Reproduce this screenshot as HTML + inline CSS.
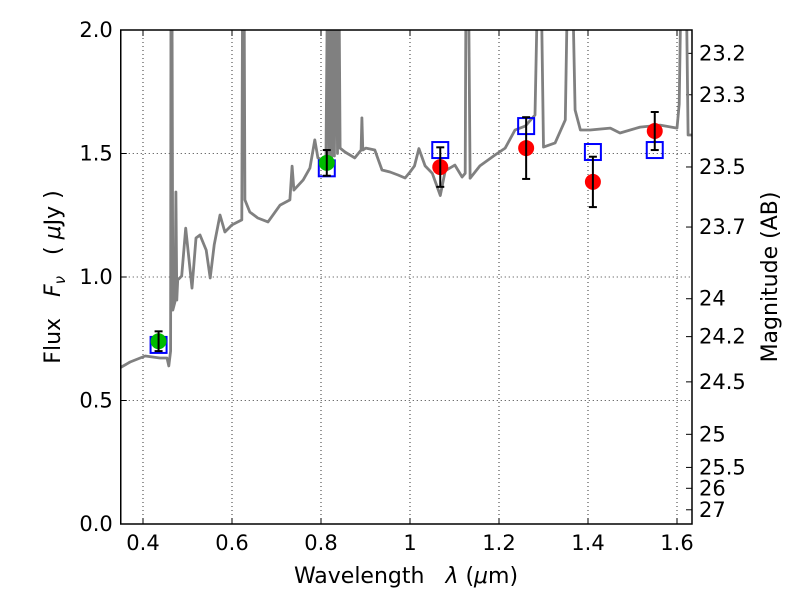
<!DOCTYPE html>
<html><head><meta charset="utf-8"><style>
body{margin:0;background:#fff}
svg{font-family:"DejaVu Sans","Liberation Sans",sans-serif}
</style></head><body>
<svg id="c" width="800" height="600"></svg>
<script>
const specLam=[
0.348,0.371,0.405,0.438,0.454,0.458,0.462,0.463,0.465,0.467,
0.472,0.474,0.476,0.478,0.487,0.496,0.510,0.519,0.528,0.542,
0.551,0.560,0.573,0.584,0.600,0.622,0.624,0.627,0.629,0.640,
0.658,0.681,0.708,0.730,0.735,0.739,0.760,0.775,0.786,0.793,
0.802,0.811,0.815,0.818,0.820,0.824,0.827,0.830,0.834,0.837,
0.840,0.843,0.854,0.876,0.890,0.892,0.894,0.901,0.921,0.937,
0.955,0.973,0.989,1.000,1.010,1.020,1.034,1.050,1.068,1.079,
1.101,1.117,1.124,1.126,1.131,1.135,1.157,1.191,1.214,1.236,
1.259,1.281,1.288,1.294,1.300,1.326,1.349,1.355,1.364,1.371,
1.383,1.405,1.450,1.472,1.517,1.562,1.600,1.605,1.610,1.620,
1.625,1.634];
const specFlux=[
0.632,0.656,0.680,0.672,0.672,0.640,0.700,2.300,2.300,0.866,
0.900,1.344,0.907,0.988,1.004,1.198,0.955,1.158,1.170,1.109,
0.996,1.130,1.251,1.182,1.211,1.231,2.300,2.300,1.312,1.263,
1.239,1.223,1.291,1.312,1.449,1.352,1.393,1.441,1.555,1.482,
1.474,1.460,2.300,1.470,2.300,1.480,2.300,1.490,2.300,1.500,
2.300,1.522,1.506,1.482,1.514,1.644,1.514,1.522,1.514,1.433,
1.425,1.413,1.401,1.425,1.450,1.520,1.450,1.420,1.330,1.430,
1.453,1.405,1.420,2.300,2.300,1.400,1.450,1.494,1.522,1.595,
1.611,1.656,2.300,2.300,1.526,1.543,1.636,2.300,2.300,1.676,
1.595,1.595,1.603,1.583,1.607,1.615,1.603,1.700,2.300,2.300,
1.575,1.575];
const photLam=[0.435,0.813,1.068,1.261,1.411,1.550];
const photFlux=[0.740,1.462,1.445,1.522,1.385,1.591];
const photErr=[0.040,0.052,0.080,0.125,0.102,0.077];
const photColor=["#00bb00","#00bb00","red","red","red","red"];
const modelFlux=[0.725,1.440,1.514,1.611,1.506,1.514];
const xTicks=[0.4,0.6,0.8,1.0,1.2,1.4,1.6];
const xTickLabels=["0.4","0.6","0.8","1","1.2","1.4","1.6"];
const yTicks=[0,0.5,1.0,1.5,2.0];
const yTickLabels=["0.0","0.5","1.0","1.5","2.0"];
const magTicks=[23.2,23.3,23.5,23.7,24,24.2,24.5,25,25.5,26,27];
const magLabels=["23.2","23.3","23.5","23.7","24","24.2","24.5","25","25.5","26","27"];
const L=120.75,R=692,T=30,B=524,x0=0.35,x1=(692-120.75)/445+0.35,y0=0,y1=2;
const X=v=>L+(v-x0)/(x1-x0)*(R-L), Y=v=>B-(v-y0)/(y1-y0)*(B-T);
const s=document.getElementById('c'),NS="http://www.w3.org/2000/svg";
function mk(t,a,p){const e=document.createElementNS(NS,t);for(const k in a)e.setAttribute(k,a[k]);(p||s).appendChild(e);return e;}
const defs=mk('defs',{});const cp=mk('clipPath',{id:'cp'},defs);mk('rect',{x:L,y:T,width:R-L,height:B-T},cp);
xTicks.forEach((v,i)=>{const g=mk('line',{x1:X(v),x2:X(v),y1:T,y2:B,stroke:'#000','stroke-dasharray':'1,3','stroke-width':0.8});


mk('line',{x1:X(v),x2:X(v),y1:B,y2:B-6,stroke:'#000'});mk('line',{x1:X(v),x2:X(v),y1:T,y2:T+6,stroke:'#000'});
const t=mk('text',{x:X(v),y:B+26,'text-anchor':'middle','font-size':21});t.textContent=xTickLabels[i];

});
yTicks.forEach((v,i)=>{const g=mk('line',{x1:L,x2:R,y1:Y(v),y2:Y(v),stroke:'#000','stroke-dasharray':'1,3','stroke-width':0.8});


mk('line',{x1:L,x2:L+6,y1:Y(v),y2:Y(v),stroke:'#000'});
const t=mk('text',{x:L-8,y:Y(v)+7,'text-anchor':'end','font-size':21});t.textContent=yTickLabels[i];

});
magTicks.forEach((m,i)=>{const f=Math.pow(10,(23.9-m)/2.5);const y=Y(f);
mk('line',{x1:R,x2:R-6,y1:y,y2:y,stroke:'#000'});
const t=mk('text',{x:R+7,y:y+7,'font-size':21});t.textContent=magLabels[i];

});
let d='';specLam.forEach((v,i)=>{d+=(i?'L':'M')+X(v).toFixed(1)+','+Y(specFlux[i]).toFixed(1);});
const sp=mk('path',{d:d,fill:'none',stroke:'#808080','stroke-width':2.8,'clip-path':'url(#cp)','stroke-linejoin':'round'});


photLam.forEach((v,i)=>{const x=X(v);
const b=mk('rect',{x:x-8,y:Y(modelFlux[i])-8,width:16,height:16,fill:'none',stroke:'#0000ff','stroke-width':2});


const c=mk('circle',{cx:x,cy:Y(photFlux[i]),r:8,fill:photColor[i]});


const yt=Y(photFlux[i]+photErr[i]),yb=Y(photFlux[i]-photErr[i]);
mk('line',{x1:x,x2:x,y1:yt,y2:yb,stroke:'#000','stroke-width':2});
mk('line',{x1:x-4,x2:x+4,y1:yt,y2:yt,stroke:'#000','stroke-width':2});
mk('line',{x1:x-4,x2:x+4,y1:yb,y2:yb,stroke:'#000','stroke-width':2});});
const fr=mk('rect',{x:L,y:T,width:R-L,height:B-T,fill:'none',stroke:'#000','stroke-width':1.5});


</script>
<svg style="position:absolute;left:0;top:0" width="800" height="600">
<text x="406" y="583" text-anchor="middle" font-size="22" font-family="DejaVu Sans, Liberation Sans, sans-serif" xml:space="preserve">Wavelength   <tspan font-style="italic">λ</tspan> (<tspan font-style="italic">μ</tspan>m)</text>
<text transform="translate(60,277) rotate(-90)" text-anchor="middle" font-size="22" font-family="DejaVu Sans, Liberation Sans, sans-serif" xml:space="preserve">Flux   <tspan font-style="italic">F</tspan><tspan font-style="italic" font-size="15" dy="5">ν</tspan><tspan dy="-5">   ( </tspan><tspan font-style="italic">μ</tspan>Jy )</text>
<text transform="translate(777,277) rotate(-90)" text-anchor="middle" font-size="22" font-family="DejaVu Sans, Liberation Sans, sans-serif">Magnitude (AB)</text>
</svg>
</body></html>
